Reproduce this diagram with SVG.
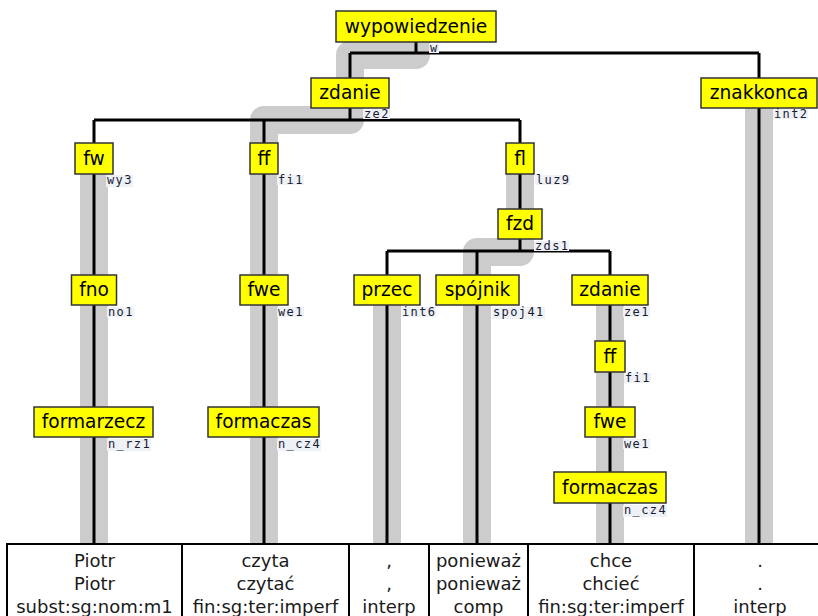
<svg xmlns="http://www.w3.org/2000/svg" width="818" height="616" viewBox="0 0 818 616">
<style>
.hl{fill:none;stroke:#cccccc;stroke-width:28;stroke-linejoin:round}
.ln{fill:none;stroke:#000;stroke-width:3}
.box{fill:#ffff00;stroke:#333;stroke-width:1.5}
.nt{font-family:"DejaVu Sans",Verdana,sans-serif;font-size:18.6px;fill:#000;text-anchor:middle}
.lb{font-family:"DejaVu Sans Mono","Liberation Mono",monospace;font-size:12px;letter-spacing:1.4px;fill:#1a1a33}
.lbg{fill:#eef1f6}
.tb{fill:#fff;stroke:#000;stroke-width:2}
.tt{font-family:"DejaVu Sans",Verdana,sans-serif;font-size:18px;fill:#1a1a1a;text-anchor:middle}
</style>
<rect width="818" height="616" fill="#fff"/>
<g id="highlights">
<path class="hl" d="M416,30 V55 H350 V95"/>
<path class="hl" d="M350,100 V120 H264 V545"/>
<path class="hl" d="M94,158 V545"/>
<path class="hl" d="M520,158 V252 H477 V545"/>
<path class="hl" d="M387,290 V545"/>
<path class="hl" d="M610,290 V545"/>
<path class="hl" d="M759,92 V545"/>
</g>
<g id="connectors">
<path class="ln" d="M416,42 V53 M350,53 H759 M350,53 V78 M759,53 V78"/>
<path class="ln" d="M350,107 V120 M94,120 H520 M94,120 V143 M264,120 V143 M520,120 V143"/>
<path class="ln" d="M94,174 V545"/>
<path class="ln" d="M264,174 V545"/>
<path class="ln" d="M520,174 V209 M520,239 V251 M387,251 H610 M387,251 V545 M477,251 V545 M610,251 V545"/>
<path class="ln" d="M759,107 V545"/>
</g>
<g id="n-wypowiedzenie"><rect class="box" x="336" y="11" width="160" height="31"/><text class="nt" x="416" y="33">wypowiedzenie</text><rect class="lbg" x="429" y="44" width="10" height="9"/><text class="lb" x="430" y="52">w</text></g>
<g id="n-zdanie"><rect class="box" x="311" y="78" width="78" height="30"/><text class="nt" x="350" y="99">zdanie</text><rect class="lbg" x="363" y="109" width="27" height="10"/><text class="lb" x="364" y="118">ze2</text></g>
<g id="n-znakkonca"><rect class="box" x="701" y="78" width="116" height="30"/><text class="nt" x="759" y="99">znakkonca</text><rect class="lbg" x="773" y="109" width="35" height="10"/><text class="lb" x="774" y="118">int2</text></g>
<g id="n-fw"><rect class="box" x="75" y="143" width="38" height="31"/><text class="nt" x="94" y="165">fw</text><rect class="lbg" x="106" y="175" width="27" height="12"/><text class="lb" x="107" y="184">wy3</text></g>
<g id="n-ff"><rect class="box" x="250" y="143" width="28" height="31"/><text class="nt" x="264" y="165">ff</text><rect class="lbg" x="277" y="175" width="27" height="10"/><text class="lb" x="278" y="184">fi1</text></g>
<g id="n-fl"><rect class="box" x="506" y="143" width="28" height="31"/><text class="nt" x="520" y="165">fl</text><rect class="lbg" x="535" y="175" width="35" height="10"/><text class="lb" x="536" y="184">luz9</text></g>
<g id="n-fzd"><rect class="box" x="498" y="209" width="44" height="30"/><text class="nt" x="520" y="230">fzd</text><rect class="lbg" x="534" y="241" width="35" height="10"/><text class="lb" x="535" y="250">zds1</text></g>
<g id="n-fno"><rect class="box" x="71.5" y="275" width="45" height="30"/><text class="nt" x="94" y="296">fno</text><rect class="lbg" x="107" y="307" width="27" height="10"/><text class="lb" x="108" y="316">no1</text></g>
<g id="n-fwe"><rect class="box" x="240" y="275" width="48" height="30"/><text class="nt" x="264" y="296">fwe</text><rect class="lbg" x="277" y="307" width="27" height="10"/><text class="lb" x="278" y="316">we1</text></g>
<g id="n-przec"><rect class="box" x="354" y="275" width="66" height="30"/><text class="nt" x="387" y="296">przec</text><rect class="lbg" x="401" y="307" width="35" height="10"/><text class="lb" x="402" y="316">int6</text></g>
<g id="n-spojnik"><rect class="box" x="436" y="275" width="83" height="30"/><text class="nt" x="477.5" y="296">spójnik</text><rect class="lbg" x="492" y="307" width="53" height="12"/><text class="lb" x="493" y="316">spoj41</text></g>
<g id="n-zdanie2"><rect class="box" x="572" y="275" width="76" height="30"/><text class="nt" x="610" y="296">zdanie</text><rect class="lbg" x="623" y="307" width="27" height="10"/><text class="lb" x="624" y="316">ze1</text></g>
<g id="n-ff2"><rect class="box" x="595" y="341" width="30" height="31"/><text class="nt" x="610" y="363">ff</text><rect class="lbg" x="624" y="373" width="27" height="10"/><text class="lb" x="625" y="382">fi1</text></g>
<g id="n-formarzecz"><rect class="box" x="34" y="407" width="119" height="30"/><text class="nt" x="93.5" y="428">formarzecz</text><rect class="lbg" x="107" y="439" width="44" height="12"/><text class="lb" x="108" y="448">n_rz1</text></g>
<g id="n-formaczas"><rect class="box" x="208" y="407" width="111" height="30"/><text class="nt" x="263.5" y="428">formaczas</text><rect class="lbg" x="277" y="439" width="44" height="12"/><text class="lb" x="278" y="448">n_cz4</text></g>
<g id="n-fwe2"><rect class="box" x="585" y="407" width="50" height="30"/><text class="nt" x="610" y="428">fwe</text><rect class="lbg" x="623" y="439" width="27" height="10"/><text class="lb" x="624" y="448">we1</text></g>
<g id="n-formaczas2"><rect class="box" x="554" y="472" width="112" height="31"/><text class="nt" x="610" y="494">formaczas</text><rect class="lbg" x="623" y="505" width="44" height="12"/><text class="lb" x="624" y="514">n_cz4</text></g>
<g id="tokens">
<rect class="tb" x="7" y="544" width="830" height="100"/>
<path class="ln" style="stroke-width:2" d="M182,544 V620 M349,544 V620 M429,544 V620 M528,544 V620 M694,544 V620"/>
<text class="tt" x="94.5" y="567">Piotr</text><text class="tt" x="94.5" y="590">Piotr</text><text class="tt" x="94.5" y="613">subst:sg:nom:m1</text>
<text class="tt" x="265.5" y="567">czyta</text><text class="tt" x="265.5" y="590">czytać</text><text class="tt" x="265.5" y="613">fin:sg:ter:imperf</text>
<text class="tt" x="389" y="567">,</text><text class="tt" x="389" y="590">,</text><text class="tt" x="389" y="613">interp</text>
<text class="tt" x="478.5" y="567">ponieważ</text><text class="tt" x="478.5" y="590">ponieważ</text><text class="tt" x="478.5" y="613">comp</text>
<text class="tt" x="611" y="567">chce</text><text class="tt" x="611" y="590">chcieć</text><text class="tt" x="611" y="613">fin:sg:ter:imperf</text>
<text class="tt" x="760" y="567">.</text><text class="tt" x="760" y="590">.</text><text class="tt" x="760" y="613">interp</text>
</g>
</svg>
